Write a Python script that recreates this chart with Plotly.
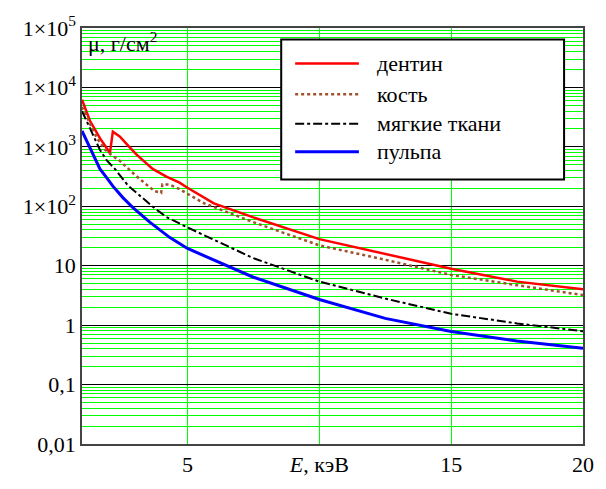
import plotly.graph_objects as go

# --- data ---
E_dentin = [1.0, 1.3, 1.68, 2.06, 2.17, 2.43, 2.81, 3.07, 3.68, 4.2, 4.7, 5.0, 6.0, 7.5, 10, 12.5, 15, 17.5, 20]
mu_dentin = [6200, 2750, 1400, 790, 1800, 1500, 980, 740, 425, 315, 250, 205, 112, 65, 28, 16, 8.9, 5.4, 4.0]

E_bone = [1.0, 1.27, 1.57, 1.87, 2.13, 2.4, 2.7, 3.0, 3.38, 3.75, 4.0, 4.05, 4.32, 4.7, 5.0, 5.64, 7.5, 10, 12.5, 15, 17.5, 20]
mu_bone = [4700, 2650, 1400, 900, 720, 600, 445, 340, 245, 180, 168, 235, 232, 195, 162, 112, 54, 22, 12.6, 7.0, 4.7, 3.2]

E_soft = [1.0, 1.23, 1.49, 1.68, 1.94, 2.25, 2.74, 3.26, 3.75, 4.2, 5.0, 7.5, 10, 12.5, 15, 17.5, 20]
mu_soft = [4000, 2450, 1400, 890, 590, 425, 225, 141, 93, 66, 44, 13.4, 5.4, 2.8, 1.55, 1.07, 0.79]

E_pulp = [1.0, 1.28, 1.49, 1.68, 1.94, 2.17, 2.55, 2.92, 3.57, 4.32, 5.0, 7.5, 10, 12.5, 15, 17.5, 20]
mu_pulp = [1850, 1000, 620, 425, 300, 218, 140, 96, 54, 30, 19.5, 6.4, 2.7, 1.3, 0.78, 0.54, 0.41]

series_names = ["дентин", "кость", "мягкие ткани", "пульпа"]

x_tickvals = [5, 10, 15, 20]
x_ticktext = ["5", "<i>E</i>, кэВ", "15", "20"]
y_tickvals = [0.01, 0.1, 1, 10, 100, 1000, 10000, 100000]
y_ticktext = ["0,01", "0,1", "1", "10", "1×10<sup>2</sup>", "1×10<sup>3</sup>",
              "1×10<sup>4</sup>", "1×10<sup>5</sup>"]
y_minor = [m * 10.0 ** p for p in range(-2, 5) for m in range(2, 10)]

FONT = "Times New Roman"

styles = [
    dict(color="#ff0000", width=2.5, dash="solid"),
    dict(color="#a0522d", width=2.5, dash="dot"),
    dict(color="#000000", width=2, dash="dashdot"),
    dict(color="#0000ff", width=3, dash="solid"),
]

fig = go.Figure()
for (xs, ys), name, st in zip(
    [(E_dentin, mu_dentin), (E_bone, mu_bone), (E_soft, mu_soft), (E_pulp, mu_pulp)],
    series_names, styles,
):
    fig.add_trace(go.Scatter(x=xs, y=ys, mode="lines", name=name, line=st, showlegend=False))

# manual legend (box, sample lines, labels) in paper coordinates
L, T, W, H = 82, 15, 503, 434
px = lambda v: (v - L) / W
py = lambda v: 1 - (v - T) / H
fig.add_shape(type="rect", xref="paper", yref="paper", x0=px(282), x1=px(566), y0=py(173), y1=py(27),
              line=dict(color="black", width=2), fillcolor="white", layer="above")
rows = [52, 84, 115, 144]
for r, name, st in zip(rows, series_names, styles):
    fig.add_shape(type="line", xref="paper", yref="paper", x0=px(296), x1=px(360), y0=py(r), y1=py(r),
                  line=dict(color=st["color"], width=st["width"], dash=st["dash"]), layer="above")
    fig.add_annotation(xref="paper", yref="paper", x=px(376), y=py(r), text=name, showarrow=False,
                       xanchor="left", yanchor="middle", font=dict(family=FONT, size=22))

fig.add_annotation(xref="paper", yref="paper", x=px(86), y=py(13), text="μ, г/см<sup>2</sup>",
                   showarrow=False, xanchor="left", yanchor="top",
                   font=dict(family=FONT, size=22))

fig.update_layout(
    width=606, height=489,
    margin=dict(l=82, r=21, t=15, b=40),
    paper_bgcolor="white", plot_bgcolor="white",
    font=dict(family=FONT, size=22, color="#000000"),
    xaxis=dict(range=[1, 20], tickmode="array", tickvals=x_tickvals, ticktext=x_ticktext,
               showgrid=True, gridcolor="#00ff00", gridwidth=1, zeroline=False,
               showline=True, linecolor="#444", linewidth=1.5, mirror=True, ticks="",
               ticklabeloverflow="allow", tickfont=dict(family=FONT, size=22)),
    yaxis=dict(type="log", range=[-2, 5], tickmode="array", tickvals=y_tickvals, ticktext=y_ticktext,
               showgrid=True, gridcolor="#000000", gridwidth=1, zeroline=False,
               showline=True, linecolor="#444", linewidth=1.5, mirror=True, ticks="",
               ticklabeloverflow="allow", tickfont=dict(family=FONT, size=22),
               minor=dict(tickvals=y_minor, showgrid=True, gridcolor="#00ff00", gridwidth=1, ticks="")),
)

fig.write_html("out.html")
